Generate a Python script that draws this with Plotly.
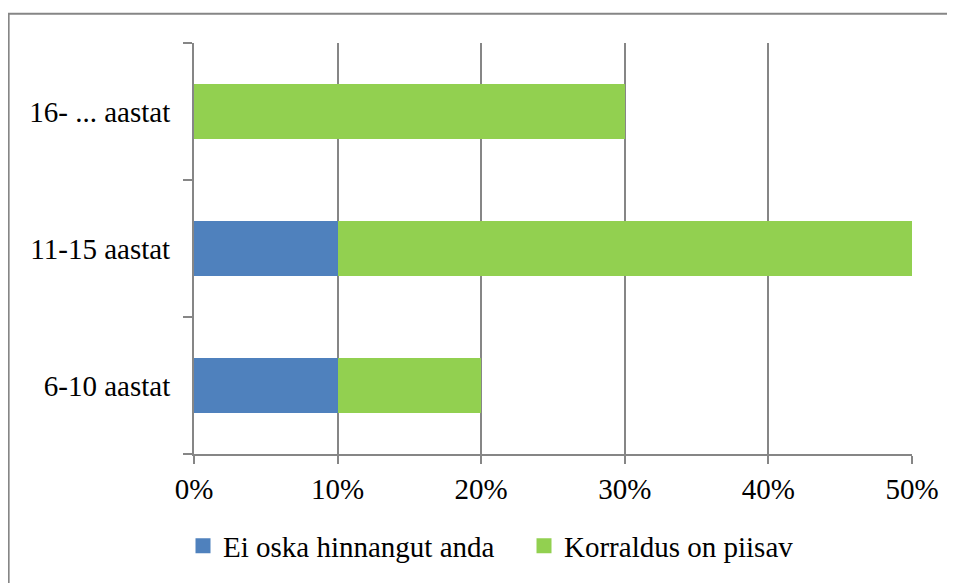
import plotly.graph_objects as go

categories = ["6-10 aastat", "11-15 aastat", "16- ... aastat"]
ei_oska = [10, 10, 0]
korraldus = [10, 40, 30]
series_names = ["Ei oska hinnangut anda", "Korraldus on piisav"]
series_colors = ["#4F81BD", "#92D050"]
x_ticks = [0, 10, 20, 30, 40, 50]

FONT = "Liberation Serif"
FS = 29
GRID = "#868686"

# page body has an 8px margin: figure origin sits at (8, 8) in the window
OX, OY = 8, 8
W, H = 955 - OX, 583 - OY
L, T = 194 - OX, 43 - OY
R = W - (912.5 - OX)
B = H - (459 - OY)
pw, ph = W - L - R, H - T - B

fig = go.Figure()
for vals, name, col in zip([ei_oska, korraldus], series_names, series_colors):
    fig.add_trace(go.Bar(y=categories, x=vals, orientation="h", name=name,
                         marker=dict(color=col, line=dict(width=0)), showlegend=False))
# legend entries with larger square swatches
for name, col in zip(series_names, series_colors):
    fig.add_trace(go.Scatter(x=[None], y=[None], mode="markers", name=name,
                             marker=dict(symbol="square", size=15, color=col, line=dict(width=0)),
                             showlegend=True))

fig.update_layout(
    width=W, height=H,
    barmode="stack", bargap=0.595,
    margin=dict(l=L, r=R, t=T, b=B, pad=0),
    paper_bgcolor="white", plot_bgcolor="white",
    font=dict(family=FONT, size=FS, color="black"),
    showlegend=True,
    legend=dict(orientation="h", x=(183 - 194) / pw, xanchor="left",
                y=(459 - 552) / ph, yanchor="middle",
                font=dict(family=FONT, size=FS), itemwidth=30, traceorder="normal",
                entrywidth=296, entrywidthmode="pixels",
                bgcolor="rgba(0,0,0,0)"),
    xaxis=dict(range=[0, 50], tickvals=x_ticks, ticktext=[f"{v}%" for v in x_ticks],
               tickfont=dict(family=FONT, size=FS),
               showgrid=True, gridcolor=GRID, gridwidth=2,
               showline=True, linecolor=GRID, linewidth=2,
               ticks="outside", ticklen=8, tickcolor=GRID, tickwidth=2,
               zeroline=False, fixedrange=True),
    yaxis=dict(categoryorder="array", categoryarray=categories,
               tickfont=dict(family=FONT, size=FS),
               showgrid=False, showline=True, linecolor=GRID, linewidth=2,
               ticks="outside", ticklen=9, tickcolor=GRID, tickwidth=2,
               tickson="boundaries", ticklabelstandoff=16, fixedrange=True),
    shapes=[dict(type="rect", xref="paper", yref="paper",
                 x0=(8.5 - 194) / pw, x1=(955 + 20 - 194) / pw,
                 y0=(459 - (583 + 20)) / ph, y1=(459 - 13.5) / ph,
                 line=dict(color=GRID, width=2), fillcolor="rgba(0,0,0,0)", layer="below")],
)

fig.write_html("out.html")
